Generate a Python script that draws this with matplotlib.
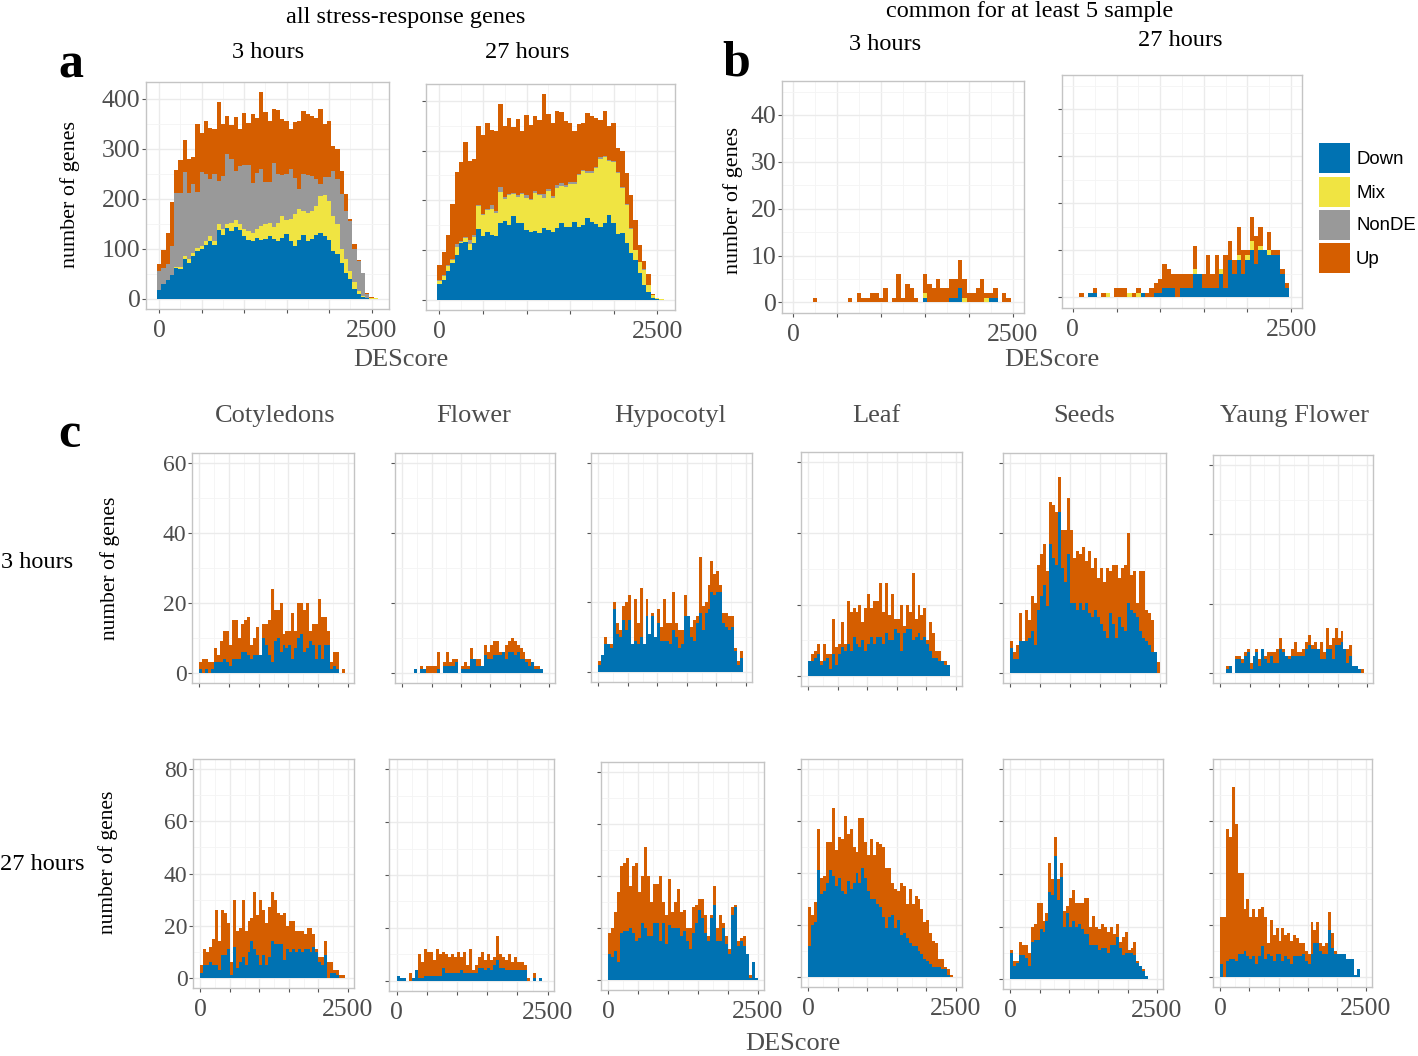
import numpy as np
import matplotlib.pyplot as plt
from matplotlib.patches import Rectangle
from matplotlib.ticker import MultipleLocator, FuncFormatter

plt.rcParams['font.family'] = ['Liberation Serif', 'DejaVu Serif']

W, H = 1418, 1056
colours = {'Down': '#0072B2', 'Mix': '#F0E442', 'NonDE': '#999999', 'Up': '#D55E00'}

# panel a: all stress-response genes, 50-wide bins centred on 0, 50, ..., 2550
a3_down = [17,30,37,47,62,60,80,72,85,95, 100,108,115,108,138,127,142,135,143,137,
           125,118,115,122,118,120,125,120,115,122, 130,115,105,118,128,115,120,127,132,125,
           118,95,90,72,52,40,20,10,4,1, 0,0]
a3_mix = [0,0,1,1,2,3,5,8,6,7, 5,7,10,7,12,13,8,17,14,13,
          15,17,17,18,27,30,27,23,37,43, 28,45,65,62,47,57,55,58,73,83,
          77,70,60,28,28,15,13,5,2,1, 2,1]
a3_nonde = [38,32,32,57,148,149,168,132,139,112, 148,135,115,134,85,105,140,128,98,115,
            127,132,100,112,114,83,81,128,97,82, 91,99,72,39,75,75,70,55,24,36,
            48,90,89,109,95,100,67,60,46,8, 0,0]
a3_up = [15,35,61,88,45,65,64,68,54,135, 79,105,102,90,158,104,75,67,109,74,
         104,84,137,110,154,140,122,108,128,112, 106,81,111,136,125,122,120,122,150,105,
         112,50,61,46,35,5,10,3,0,2, 2,0]

a27_down = [31,40,58,73,90,115,117,100,115,142, 128,137,130,128,155,158,150,168,154,154,
            141,137,138,134,144,141,137,144,154,147, 147,156,147,151,164,156,152,147,154,171,
            154,132,134,115,95,80,53,30,15,3, 1,0]
a27_mix = [6,8,9,7,17,2,8,13,12,46, 42,43,53,47,62,45,60,44,53,58,
           64,63,77,76,61,77,68,81,74,80, 85,76,103,107,91,99,113,136,133,109,
           123,123,91,75,47,20,22,30,15,7, 3,1]
a27_nonde = [2,2,2,2,5,2,2,8,3,3, 2,3,7,4,10,3,3,3,4,3,
             5,3,4,3,7,4,3,5,6,3, 4,4,3,4,3,5,3,5,3,2,
             2,2,2,2,2,1,1,1,0,0, 0,0]
a27_up = [31,47,62,111,145,158,190,159,154,158, 160,172,152,160,166,143,152,132,153,124,
          161,148,150,149,201,151,147,149,143,129, 119,104,100,93,117,109,97,74,89,67,
          76,48,73,63,66,59,34,17,22,2, 0,0]

# panel b: common for at least 5 samples, bins centred on 0, 50, ..., 2500
b3_down = [0,0,0,0,0,0,0,0,0,0, 0,0,0,0,0,0,0,0,0,0, 0,0,0,0,0,0,0,0,0,0,
           1,0,0,0,0,0,1,1,3,0, 0,0,0,0,0,1,1,0,0,0, 0]
b3_mix = [0,0,0,0,0,0,0,0,0,0, 0,0,0,0,0,0,0,0,0,0, 0,0,0,0,0,0,0,0,0,0,
          1,0,0,0,0,0,0,0,0,1, 0,0,0,0,1,0,0,0,0,0, 0]
b3_up = [0,0,0,0,0,1,0,0,0,0, 0,0,0,1,0,2,1,1,2,2, 1,3,0,1,6,1,4,3,1,0,
         4,4,3,5,3,3,4,4,6,4, 2,2,3,5,1,1,2,0,2,1, 0]

b27_down = [0,0,0,0,1,1,0,0,0,0, 0,0,0,0,0,0,1,0,0,1, 1,2,2,2,0,2,2,2,5,5,
            2,2,2,2,5,2,8,5,8,5, 8,10,7,10,10,9,9,9,5,2, 0]
b27_mix = [0,0,0,0,0,0,0,0,1,0, 0,0,0,1,0,1,0,0,0,0, 0,0,0,0,0,0,0,0,1,0,
           0,0,0,0,1,0,0,0,1,0, 1,2,0,1,0,1,0,0,0,0, 0]
b27_up = [0,0,1,0,0,1,0,1,0,0, 2,2,2,0,1,1,0,1,2,2, 3,5,4,3,5,3,3,3,5,0,
          3,7,3,7,0,7,4,3,6,5, 1,5,6,4,0,4,1,1,1,1, 0]

# panel c: per tissue, bins [0,50), [50,100), ... , [2450,2500)
tissues = ['Cotyledons', 'Flower', 'Hypocotyl', 'Leaf', 'Seeds', 'Yaung Flower']

c3_down = {
    'Cotyledons': [1,0,1,0,1,3,3,3,4,3, 2,4,4,4,6,6,5,4,5,5, 5,10,8,5,3,9,10,6,8,7,
                   8,4,7,10,11,6,7,9,8,4, 8,4,8,8,1,2,1,0,0,0],
    'Flower': [0,0,0,0,1,0,1,1,0,0, 0,0,1,0,2,2,2,2,3,0, 1,1,1,4,4,2,2,2,5,4,
               4,5,5,5,6,4,6,6,5,6, 4,4,3,2,3,1,1,1,0,0],
    'Hypocotyl': [2,5,8,8,7,18,11,10,15,12, 15,8,9,8,10,8,16,11,16,10, 14,9,9,9,8,12,10,7,8,16,
                  16,10,9,14,17,12,17,18,23,22, 23,23,14,13,12,13,6,2,4,0],
    'Leaf': [4,4,5,6,3,4,5,2,6,3, 6,8,7,9,7,11,9,8,10,7, 9,11,9,11,11,9,12,10,10,13,
             12,7,12,13,13,10,11,12,10,11, 9,7,5,5,4,4,3,3,0,0],
    'Seeds': [7,4,4,9,9,9,10,12,8,18, 22,25,19,37,33,31,46,30,26,34, 20,20,18,20,18,20,17,16,18,16,
              14,12,10,17,14,10,16,13,12,20, 18,17,16,12,10,9,8,6,6,0],
    'Yaung Flower': [0,0,1,2,0,4,4,3,5,6, 1,5,6,2,7,4,3,5,3,3, 7,6,5,4,5,5,5,5,5,7,
                     8,7,7,7,4,4,7,7,4,8, 8,9,7,3,5,2,2,1,0,0],
}
c3_up = {
    'Cotyledons': [2,4,3,3,2,4,2,6,8,9, 6,11,11,6,8,9,11,4,5,8, 0,4,6,10,21,9,8,14,3,5,
                   4,13,5,10,9,12,13,3,6,10, 13,12,8,4,2,4,5,0,1,0],
    'Flower': [0,0,0,0,0,0,1,0,2,2, 2,2,5,0,1,4,1,2,1,0, 1,2,1,3,0,2,2,0,3,2,
               4,4,4,1,0,4,3,4,4,2, 3,2,1,2,0,1,1,0,0,0],
    'Hypocotyl': [1,0,2,0,1,2,3,2,4,8, 7,0,12,6,14,0,5,0,1,0, 4,4,12,5,6,11,4,5,4,6,
                  0,3,6,2,16,7,3,7,9,6, 6,2,3,4,4,3,1,1,2,0],
    'Leaf': [0,2,2,3,1,5,1,4,10,5, 3,7,2,12,11,8,9,12,5,12, 14,8,12,10,15,9,14,7,13,3,
             4,13,2,7,5,19,5,8,7,8, 1,8,7,2,3,0,1,0,0,0],
    'Seeds': [2,2,4,8,0,9,5,10,12,13, 12,12,10,12,15,15,10,11,15,16, 21,13,17,14,18,12,18,14,15,11,
              16,14,20,12,17,21,11,17,19,20, 10,12,4,17,19,9,9,9,0,3],
    'Yaung Flower': [0,0,1,0,0,1,1,1,1,1, 2,0,1,2,0,1,3,1,3,4, 3,1,0,1,2,4,1,1,2,2,
                     3,1,2,0,5,2,6,1,6,5, 2,3,0,4,3,0,0,0,1,0],
}
c27_down = {
    'Cotyledons': [2,5,5,6,5,5,3,9,9,11, 1,12,4,6,8,5,10,14,11,9, 5,9,5,8,14,13,13,13,7,11,
                   10,11,10,11,10,11,11,10,12,10, 6,5,9,0,2,2,1,0,0,0],
    'Flower': [2,1,1,0,0,1,4,1,1,2, 2,2,2,2,2,5,3,3,3,3, 3,4,3,3,3,3,3,5,5,4,
               5,4,6,8,5,5,4,4,4,4, 4,4,4,0,0,1,0,1,0,0],
    'Hypocotyl': [10,9,11,7,18,19,19,20,18,15, 16,22,20,17,17,22,22,15,22,14, 21,20,20,20,17,19,15,12,18,22,
                  27,24,18,15,24,29,15,15,20,14, 10,25,28,13,15,13,10,1,7,1],
    'Leaf': [12,20,21,41,32,33,36,41,39,35, 38,33,32,37,34,36,40,36,42,38, 33,30,30,28,27,23,19,23,24,19,
             22,16,17,15,13,12,12,10,9,7, 6,5,4,4,4,3,3,1,0,0],
    'Seeds': [10,5,6,9,9,8,5,14,15,15, 19,18,22,33,32,47,30,39,20,25, 20,22,20,21,19,17,17,13,13,13,
              11,12,12,10,13,13,16,12,9,10, 10,10,9,6,5,3,1,0,0,0],
    'Yaung Flower': [5,0,6,7,7,6,9,9,10,8, 7,8,5,8,12,7,9,8,6,9, 9,6,8,7,5,8,8,8,9,6,
                     5,9,13,13,10,9,9,18,11,9, 9,9,9,7,7,7,1,3,0,0],
}
c27_up = {
    'Cotyledons': [3,6,5,6,10,21,11,17,16,10, 5,18,14,13,22,13,12,9,22,15, 25,17,16,19,19,17,12,11,18,9,
                   12,11,8,7,8,6,8,9,5,1, 2,3,5,6,4,1,2,1,1,0],
    'Flower': [0,0,0,0,3,0,0,9,6,10, 9,9,6,10,8,6,7,6,7,6, 8,5,8,3,9,1,3,4,6,4,
               5,4,3,9,5,4,4,6,3,5, 3,3,2,1,0,2,0,0,0,0],
    'Hypocotyl': [8,11,15,27,26,26,28,16,26,30, 18,18,31,23,13,15,15,25,8,11, 18,6,10,15,9,8,5,8,10,7,
                  4,7,7,2,1,7,5,10,2,3, 2,3,1,2,1,4,0,1,0,0],
    'Leaf': [15,4,8,16,6,6,16,11,26,14, 16,20,30,18,23,14,8,25,19,14, 14,23,17,24,24,27,23,19,12,15,
             11,20,18,13,21,16,19,20,17,14, 16,12,10,9,3,4,1,2,1,0],
    'Seeds': [1,2,1,5,4,5,5,6,6,14, 10,4,3,11,6,7,8,5,6,3, 11,12,9,8,10,14,14,7,11,7,
              8,9,8,8,7,4,5,2,7,8, 1,2,5,1,0,1,0,0,0,0],
    'Yaung Flower': [18,23,51,47,66,53,31,31,16,22, 16,18,18,18,15,16,4,14,10,10, 5,13,8,10,9,8,7,5,4,4,
                     4,12,5,8,3,3,4,7,6,1, 0,0,0,0,0,0,0,0,0,0],
}

fig = plt.figure(figsize=(W / 100, H / 100), dpi=100)


def add_box(l, t, r, b):
    return fig.add_axes([l / W, 1 - b / H, (r - l) / W, (b - t) / H])


def stack(ax, edges, layers):
    base = np.zeros(len(edges) - 1)
    for name, vals in layers:
        top = base + np.asarray(vals, float)
        ax.stairs(top, edges, baseline=base, fill=True, color=colours[name], linewidth=0)
        base = top


def dress(ax, xlim, ylim, ystep, ylab=True, xlab=True, ysize=18):
    ax.set_xlim(xlim)
    ax.set_ylim(ylim)
    ax.xaxis.set_major_locator(MultipleLocator(500))
    ax.xaxis.set_minor_locator(MultipleLocator(250))
    ax.yaxis.set_major_locator(MultipleLocator(ystep))
    ax.yaxis.set_minor_locator(MultipleLocator(ystep / 2))
    ax.xaxis.set_major_formatter(FuncFormatter(lambda v, p: f'{v:.0f}' if v in (0, 2500) else ''))
    ax.grid(which='major', color='#EBEBEB', lw=1.0)
    ax.grid(which='minor', color='#F4F4F4', lw=0.6)
    ax.set_axisbelow(True)
    for s in ax.spines.values():
        s.set_color('#C4C4C4')
        s.set_linewidth(1.0)
    ax.tick_params(which='major', length=3, width=0.8, color='#555555', labelcolor='#4D4D4D')
    ax.tick_params(which='minor', length=0)
    ax.tick_params(axis='x', labelsize=18.5, pad=5, labelbottom=xlab)
    ax.tick_params(axis='y', labelsize=ysize, pad=1, labelleft=ylab)


def label(x, y, s, size, colour='black', **kw):
    fig.text(x / W, 1 - y / H, s, fontsize=size, color=colour, ha='center', va='center', **kw)


# panel a
edges_a = np.arange(53) * 50 - 25
ax = add_box(146, 82, 389, 309)
stack(ax, edges_a, [('Down', a3_down), ('Mix', a3_mix), ('NonDE', a3_nonde), ('Up', a3_up)])
dress(ax, (-155, 2705), (-20.6, 434), 100, ysize=18.5)
ax = add_box(426, 84, 675, 310)
stack(ax, edges_a, [('Down', a27_down), ('Mix', a27_mix), ('NonDE', a27_nonde), ('Up', a27_up)])
dress(ax, (-155, 2705), (-20.6, 434), 100, ylab=False)

# panel b
edges_b = np.arange(52) * 50 - 25
ax = add_box(782, 81, 1024, 313)
stack(ax, edges_b, [('Down', b3_down), ('Mix', b3_mix), ('Up', b3_up)])
dress(ax, (-125, 2625), (-2.25, 47.25), 10, ysize=18.5)
ax = add_box(1062, 75, 1302, 308)
stack(ax, edges_b, [('Down', b27_down), ('Mix', b27_mix), ('Up', b27_up)])
dress(ax, (-125, 2625), (-2.25, 47.25), 10, ylab=False)

# legend keys drawn in figure pixels
key_tops = [143, 177, 210, 243]
for (name, col), top in zip(colours.items(), key_tops):
    fig.add_artist(Rectangle((1319 / W, 1 - (top + 30) / H), 31 / W, 30 / H,
                             transform=fig.transFigure, facecolor=col, edgecolor='none'))
    fig.text(1356 / W, 1 - (top + 16) / H, name, fontsize=13.4, family='Liberation Sans',
             ha='left', va='center')

# panel c
edges_c = np.arange(51) * 50
row1 = [(192, 453, 354, 683), (395, 453, 555, 683), (591, 453, 752, 682),
        (801, 452, 962, 686), (1003, 453, 1166, 683), (1213, 455, 1373, 683)]
row2 = [(193, 759, 354, 988), (389, 759, 554, 991), (601, 762, 764, 990),
        (801, 759, 962, 987), (1003, 759, 1163, 989), (1213, 759, 1372, 987)]
for i, t in enumerate(tissues):
    ax = add_box(*row1[i])
    stack(ax, edges_c, [('Down', c3_down[t]), ('Up', c3_up[t])])
    dress(ax, (-124, 2604), (-2.9, 62.9), 20, ylab=(i == 0), xlab=False, ysize=17)
    ax = add_box(*row2[i])
    stack(ax, edges_c, [('Down', c27_down[t]), ('Up', c27_up[t])])
    dress(ax, (-124, 2604), (-3.8, 83.8), 20, ylab=(i == 0), ysize=17)

# titles and labels
label(71, 66, 'a', 36, weight='bold')
label(736, 64, 'b', 36, weight='bold')
label(69, 435, 'c', 36, weight='bold')
label(406, 18, 'all stress-response genes', 17.5)
label(268, 52, '3 hours', 17.5)
label(527, 52, '27 hours', 17.5)
label(1030, 11, 'common for at least 5 sample', 17.5)
label(885, 45, '3 hours', 17.5)
label(1180, 40, '27 hours', 17.5)
label(70, 195, 'number of genes', 15.8, rotation=90)
label(733, 201, 'number of genes', 15.8, rotation=90)
label(110, 568, 'number of genes', 15.5, rotation=90)
label(108, 862, 'number of genes', 15.5, rotation=90)
label(401, 360, 'DEScore', 19, '#4D4D4D')
label(1052, 360, 'DEScore', 19, '#4D4D4D')
label(793, 1044, 'DEScore', 19, '#4D4D4D')
title_x = [275, 474, 670, 876, 1084, 1295]
for t, x in zip(tissues, title_x):
    label(x, 416, t, 19, '#4D4D4D')
label(37, 562, '3 hours', 17.5)
label(42, 865, '27 hours', 17.5)

fig.savefig('out.png', dpi=100)
